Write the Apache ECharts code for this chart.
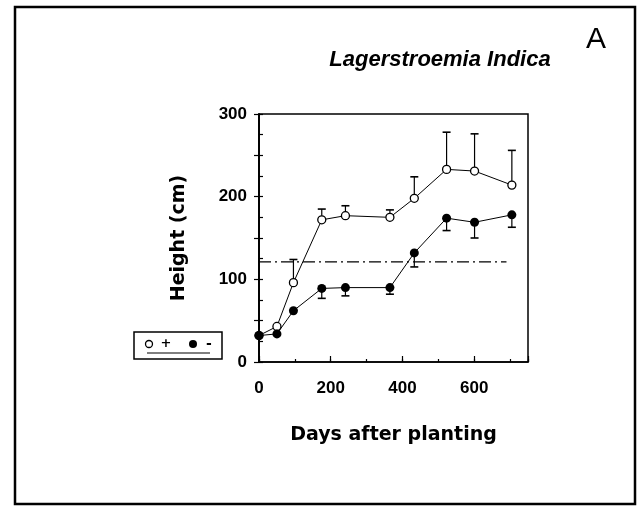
<!DOCTYPE html>
<html>
<head>
<meta charset="utf-8">
<script src="https://cdn.jsdelivr.net/npm/echarts@6/dist/echarts.min.js"></script>
<style>
html,body{margin:0;padding:0;background:#fff;}
#main{width:639px;height:507px;}
</style>
</head>
<body>
<div id="main"></div>
<script>
// 数据：种植后天数
var days = [0, 50, 96, 175, 241, 365, 433, 523, 601, 705];
// 遮荫 + (空心圆)
var plusHeight = [32, 43, 96, 172, 177, 175, 198, 233, 231, 214];
var plusUpper = [null, null, 124, 185, 189, 184, 224, 278, 276, 256];
// 遮荫 - (实心圆)
var minusHeight = [32, 34, 62, 89, 90, 90, 132, 174, 169, 178];
var minusLower = [null, null, null, 77, 80, 82, 115, 159, 150, 163];
// 参考线
var refDays = [0, 690];
var refHeight = 121;

var yTicks = [0, 100, 200, 300];
var xTicks = [0, 200, 400, 600];

function pairs(xs, ys){
    var arr = [];
    for(var i=0;i<xs.length;i++){
        arr.push([xs[i], ys[i]]);
    }
    return arr;
}
function barData(xs, ys, ends){
    var arr = [];
    for(var i=0;i<xs.length;i++){
        if(ends[i]==null)continue;
        arr.push([xs[i], ys[i], ends[i]]);
    }
    return arr;
}
// 误差棒
function renderErr(params, api){
    var p0 = api.coord([api.value(0), api.value(1)]);
    var p1 = api.coord([api.value(0), api.value(2)]);
    return {
        type:'group',
        children:[
            {type:'line', shape:{x1:p0[0], y1:p0[1], x2:p1[0], y2:p1[1]}, style:{stroke:'#000', lineWidth:1.2}},
            {type:'line', shape:{x1:p1[0]-4, y1:p1[1], x2:p1[0]+4, y2:p1[1]}, style:{stroke:'#000', lineWidth:1.6}}
        ]
    };
}

var tickFont = {color:'#000', fontFamily:'Liberation Sans', fontWeight:'bold', fontSize:17};
var nameFont = {color:'#000', fontFamily:'DejaVu Sans', fontWeight:'bold', fontSize:19};

var myChart = echarts.init(document.getElementById('main'));
var option = {
    backgroundColor:'#fff',
    animation:false,
    grid:{left:259, right:111, top:114, bottom:145, show:true, borderColor:'#000', borderWidth:1.5, backgroundColor:'transparent'},
    xAxis:[{
        type:'value', position:'bottom', min:0, max:750, interval:100,
        axisLine:{lineStyle:{color:'#000', width:1.5}},
        axisTick:{inside:true, length:3, lineStyle:{color:'#000', width:1.2}},
        axisLabel:Object.assign({margin:18, formatter:function(v){return xTicks.indexOf(v)>=0 ? String(v) : '';}}, tickFont),
        splitLine:{show:false},
        name:'Days after planting', nameLocation:'middle', nameGap:64, nameTextStyle:nameFont
    },{
        type:'value', position:'bottom', min:0, max:750, interval:200,
        axisLine:{show:false},
        axisTick:{inside:true, length:6, lineStyle:{color:'#000', width:1.2}},
        axisLabel:{show:false},
        splitLine:{show:false}
    }],
    yAxis:[{
        type:'value', position:'left', min:0, max:300, interval:25,
        axisLine:{lineStyle:{color:'#000', width:1.5}},
        axisTick:{inside:true, length:4, lineStyle:{color:'#000', width:1.2}},
        axisLabel:Object.assign({margin:12, formatter:function(v){return yTicks.indexOf(v)>=0 ? String(v) : '';}}, tickFont),
        splitLine:{show:false},
        name:'Height (cm)', nameLocation:'middle', nameGap:70, nameTextStyle:nameFont
    },{
        type:'value', position:'right', min:0, max:300, interval:50,
        axisLine:{lineStyle:{color:'#000', width:1.5}},
        axisTick:{inside:true, length:5, lineStyle:{color:'#000', width:1.2}},
        axisLabel:{show:false},
        splitLine:{show:false}
    }],
    graphic:[
        {type:'rect', shape:{x:15, y:7, width:620, height:497}, style:{fill:'none', stroke:'#000', lineWidth:2.5}},
        {type:'text', x:440, y:60, style:{text:'Lagerstroemia Indica', fontFamily:'Liberation Sans', fontStyle:'italic', fontWeight:'bold', fontSize:22, fill:'#000', textAlign:'center', textVerticalAlign:'middle'}},
        {type:'text', x:596, y:40, style:{text:'A', fontFamily:'Liberation Sans', fontSize:30, fill:'#000', textAlign:'center', textVerticalAlign:'middle'}},
        // 图例
        {type:'rect', shape:{x:134, y:332, width:88, height:27}, style:{fill:'#fff', stroke:'#000', lineWidth:1.5}},
        {type:'circle', shape:{cx:149, cy:344, r:3.5}, style:{fill:'#fff', stroke:'#000', lineWidth:1.3}},
        {type:'text', x:166, y:344, style:{text:'+', fontFamily:'DejaVu Sans', fontWeight:'bold', fontSize:13, fill:'#000', textAlign:'center', textVerticalAlign:'middle'}},
        {type:'circle', shape:{cx:193, cy:344, r:4}, style:{fill:'#000'}},
        {type:'text', x:209, y:344, style:{text:'-', fontFamily:'DejaVu Sans', fontWeight:'bold', fontSize:14, fill:'#000', textAlign:'center', textVerticalAlign:'middle'}},
        {type:'line', shape:{x1:147, y1:353, x2:210, y2:353}, style:{stroke:'#000', lineWidth:1.2}}
    ],
    series:[
        {
            type:'line', data:refDays.map(function(d){return [d, refHeight];}),
            symbol:'none', lineStyle:{color:'#000', width:1.2, type:[12,4,2,4]}, z:1
        },
        {
            type:'custom', renderItem:renderErr, data:barData(days, plusHeight, plusUpper), z:2
        },
        {
            type:'custom', renderItem:renderErr, data:barData(days, minusHeight, minusLower), z:2
        },
        {
            type:'line', data:pairs(days, plusHeight),
            symbol:'circle', symbolSize:8,
            itemStyle:{color:'#fff', borderColor:'#000', borderWidth:1.3},
            lineStyle:{color:'#000', width:1}, z:3
        },
        {
            type:'line', data:pairs(days, minusHeight),
            symbol:'circle', symbolSize:9,
            itemStyle:{color:'#000', borderColor:'#000', borderWidth:0},
            lineStyle:{color:'#000', width:1}, z:4
        }
    ]
};
myChart.setOption(option);
</script>
</body>
</html>
